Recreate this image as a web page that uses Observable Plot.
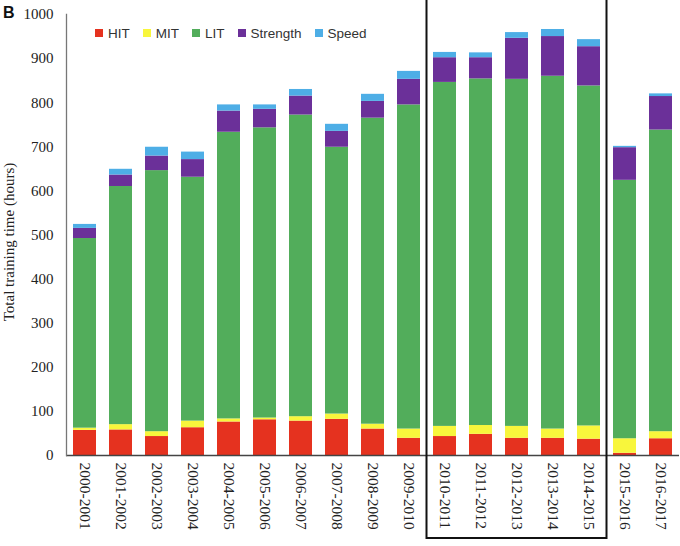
<!DOCTYPE html>
<html><head><meta charset="utf-8">
<script src="https://cdn.jsdelivr.net/npm/d3@7"></script>
<script src="https://cdn.jsdelivr.net/npm/@observablehq/plot@0.6"></script>
<style>
body{margin:0;background:#fff;}
#wrap{position:relative;width:680px;height:546px;overflow:hidden;background:#fff;}
#wrap > svg{position:absolute;left:0;top:0;}
#panel{position:absolute;left:3px;top:4px;font:bold 16px "Liberation Sans",Arial,sans-serif;color:#111;z-index:2;}
#legend{position:absolute;left:95px;top:23px;z-index:2;}
#legend div{min-height:20px !important;margin:0 !important;font-family:"Liberation Sans",Arial,sans-serif !important;font-size:13.5px !important;color:#333 !important;}
#legend span{margin-right:13px;}
#legend span > svg{margin-right:5px;}
</style></head><body>
<div id="wrap"><div id="panel">B</div><div id="legend"></div></div>
<script>
const seasons = ["2000-2001","2001-2002","2002-2003","2003-2004","2004-2005","2005-2006","2006-2007","2007-2008","2008-2009","2009-2010","2010-2011","2011-2012","2012-2013","2013-2014","2014-2015","2015-2016","2016-2017"];
const types = ["HIT","MIT","LIT","Strength","Speed"];
const colors = ["#e5321f","#f8f63c","#52ad5b","#6b3099","#4eaee6"];
const hit      = [57, 58, 43, 63, 76, 81, 78, 82, 60, 39, 43, 48, 39, 39, 37,  5, 38];
const mit      = [ 5, 12, 11, 15,  7,  4, 10, 12, 11, 21, 23, 20, 27, 21, 30, 33, 16];
const lit      = [430,540,592,553,650,658,684,605,694,735,780,786,787,800,771,586,684];
const strength = [23, 26, 33, 40, 48, 42, 43, 36, 38, 58, 56, 48, 93, 90, 89, 74, 76];
const speed    = [ 9, 13, 20, 17, 14, 10, 15, 16, 16, 18, 12, 11, 13, 16, 16,  3,  6];
const yTicks = [0,100,200,300,400,500,600,700,800,900,1000];
const boxedSeasons = ["2010-2011","2014-2015"];
const yTitle = "Total training time (hours)";

const series = [hit, mit, lit, strength, speed];
const rows = seasons.flatMap((s, i) => types.map((t, j) => ({season: s, type: t, hours: series[j][i]})));

const chart = Plot.plot({
  width: 680, height: 546,
  marginLeft: 66, marginRight: 1, marginTop: 14, marginBottom: 91,
  style: {fontFamily: "'Liberation Serif', 'Times New Roman', serif", fontSize: "15px", color: "#222", background: "transparent", overflow: "visible"},
  x: {domain: seasons, paddingInner: 0.36, paddingOuter: 0.18, label: null},
  y: {domain: [0, 1000], label: null},
  color: {domain: types, range: colors},
  marks: [
    Plot.barY(rows, Plot.stackY({x: "season", y: "hours", fill: "type", order: types})),
    Plot.axisY({ticks: yTicks, tickFormat: d3.format("d"), tickSize: 0, tickPadding: 13, fontSize: 15, label: null}),
    Plot.axisX({tickRotate: 90, tickSize: 0, tickPadding: 7, fontSize: 15.5, label: null}),
    Plot.ruleY([0], {stroke: "#444", strokeWidth: 1.3}),
    Plot.frame({anchor: "left", stroke: "#777", strokeWidth: 1.3}),
    Plot.rect([boxedSeasons], {x1: d => d[0], x2: d => d[1], y1: () => 0, y2: () => 1000,
      insetLeft: -6.5, insetRight: -6.5, insetTop: -30, insetBottom: -83,
      fill: "none", stroke: "#111", strokeWidth: 2, clip: false}),
    Plot.text([yTitle], {frameAnchor: "left", text: d => d, rotate: -90, dx: -57, dy: 7,
      fontSize: 15, textAnchor: "middle", lineAnchor: "middle", fill: "#222"})
  ]
});
document.getElementById("wrap").prepend(chart);

const legend = Plot.legend({color: {domain: types, range: colors}, legend: "swatches", swatchSize: 8,
  style: {fontFamily: "'Liberation Sans', Arial, sans-serif", fontSize: "13.5px", color: "#333"}});
document.getElementById("legend").append(legend);
</script>
</body></html>
